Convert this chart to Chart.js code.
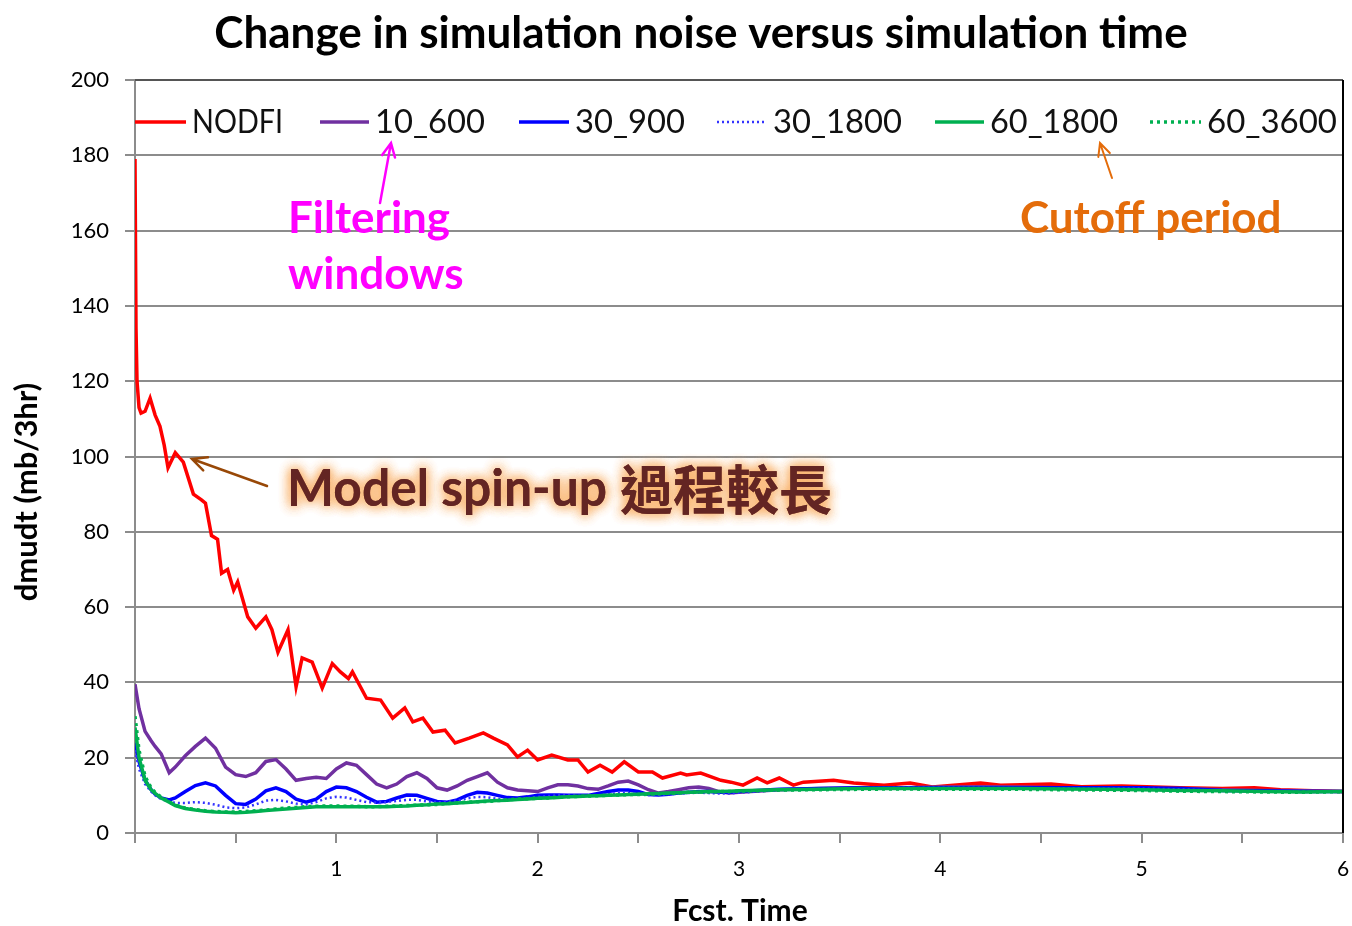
<!DOCTYPE html>
<html>
<head>
<meta charset="utf-8">
<script src="https://cdn.jsdelivr.net/npm/chart.js@4.4.0/dist/chart.umd.min.js"></script>
<style>
  body { margin: 0; background: #fff; }
  canvas { display: block; }
</style>
</head>
<body>
<canvas id="noiseChart" width="1352" height="926"></canvas>
<script>
// Series names (legend order)
const seriesNames = ['NODFI', '10_600', '30_900', '30_1800', '60_1800', '60_3600'];

// NODFI has its own (irregular) time samples
const nodfiTime = [0, 0.005, 0.01, 0.02, 0.03, 0.05, 0.075, 0.1, 0.124, 0.145, 0.164, 0.2, 0.24, 0.29, 0.33, 0.35,
  0.38, 0.41, 0.43, 0.46, 0.49, 0.51, 0.56, 0.6, 0.65, 0.68, 0.71, 0.76, 0.8, 0.83, 0.88, 0.93, 0.98,
  1.02, 1.06, 1.08, 1.15, 1.22, 1.28, 1.34, 1.38, 1.43, 1.48, 1.54, 1.59, 1.66, 1.73, 1.78, 1.85, 1.9, 1.95,
  2.0, 2.07, 2.15, 2.2, 2.25, 2.31, 2.37, 2.43, 2.5, 2.57, 2.62, 2.71, 2.74, 2.81, 2.91, 2.96,
  3.02, 3.09, 3.14, 3.2, 3.27, 3.32, 3.47, 3.57, 3.72, 3.85, 3.96, 4.2, 4.3, 4.55, 4.7, 4.9, 5.19, 5.4, 5.56, 5.69, 5.85, 6];
const nodfi = [179, 134, 120, 113, 111.5, 112, 115.5, 111, 108, 103, 97, 101, 98.5, 90, 88.5, 87.6,
  79, 78, 69, 70, 64.5, 66.7, 57.4, 54.4, 57.4, 54, 48, 54, 38.8, 46.5, 45.4, 38.5, 45,
  42.8, 41, 42.8, 35.8, 35.3, 30.5, 33.2, 29.5, 30.5, 26.8, 27.3, 23.9, 25.2, 26.6, 25.2, 23.4, 20.2, 22,
  19.4, 20.7, 19.4, 19.4, 16.2, 18, 16.2, 18.9, 16.2, 16.2, 14.6, 15.9, 15.4, 15.9, 14, 13.5,
  12.7, 14.6, 13.3, 14.6, 12.7, 13.5, 14, 13.3, 12.7, 13.3, 12.2, 13.3, 12.7, 13, 12.3, 12.5, 12, 11.8, 12, 11.5, 11.2, 11];

// Filtered runs share one time grid
const filtTime = [0, 0.02, 0.05, 0.08, 0.1, 0.13, 0.17,
  0.2, 0.25, 0.3, 0.35, 0.4, 0.45, 0.5, 0.55, 0.6, 0.65, 0.7, 0.75, 0.8, 0.85, 0.9, 0.95,
  1.0, 1.05, 1.1, 1.15, 1.2, 1.25, 1.3, 1.35, 1.4, 1.45, 1.5, 1.55, 1.6, 1.65, 1.7, 1.75, 1.8, 1.85, 1.9, 1.95,
  2.0, 2.05, 2.1, 2.15, 2.2, 2.25, 2.3, 2.35, 2.4, 2.45, 2.5, 2.55, 2.6, 2.65, 2.7, 2.75, 2.8, 2.85, 2.9, 2.95,
  3.0, 3.2, 3.4, 3.6, 3.8, 4.0, 4.2, 4.4, 4.6, 4.8, 5.0, 5.2, 5.4, 5.6, 5.8, 6.0];

const f10_600 = [39.5, 33, 27, 24.5, 23, 21, 16,
  17.5, 20.5, 23, 25.2, 22.5, 17.5, 15.5, 15, 16, 19, 19.5, 17, 14, 14.5, 14.8, 14.5,
  17, 18.6, 18, 15.5, 13, 12, 13, 15, 16, 14.5, 12, 11.4, 12.5, 14, 15, 16, 13.5, 12, 11.4, 11.2,
  11, 12, 12.8, 12.8, 12.5, 11.8, 11.6, 12.5, 13.5, 13.8, 12.8, 11.5, 10.6, 11, 11.5, 12, 12.2, 11.8, 11, 10.6,
  10.8, 11.5, 11.8, 12, 12, 12.2, 12.3, 12.2, 12, 12, 11.8, 11.8, 11.5, 11.3, 11.2, 11];

const f30_900 = [24, 19, 14, 11.5, 10.3, 9.3, 8.8,
  9.3, 11, 12.6, 13.3, 12.5, 10, 7.8, 7.6, 9, 11.2, 12, 11, 9, 8.2, 9, 11,
  12.2, 12, 11, 9.5, 8.2, 8.4, 9.3, 10.1, 10, 9.2, 8.4, 8.2, 8.8, 10, 10.8, 10.6, 10, 9.4, 9.3, 9.6,
  10, 10.1, 10.1, 10, 10, 10, 10.5, 11, 11.4, 11.4, 11, 10.2, 10.1, 10.3, 10.6, 10.8, 11, 11, 10.8, 10.8,
  11, 11.6, 11.8, 12, 12, 12, 12, 12, 12, 12, 12, 11.8, 11.3, 11.2, 11, 11];

const f30_1800 = [22, 17, 13, 11, 10, 9, 8.3,
  8, 8, 8.2, 8, 7.5, 6.8, 6.6, 6.8, 7.6, 8.6, 8.8, 8.4, 7.8, 7.6, 8.2, 9.2,
  9.6, 9.4, 8.8, 8.2, 8.1, 8.2, 8.5, 8.8, 8.8, 8.4, 8.2, 8.3, 8.6, 9.2, 9.6, 9.5, 9.1, 8.9, 9, 9.3,
  9.6, 9.8, 10, 10, 9.9, 9.8, 10, 10.3, 10.6, 10.6, 10.4, 10.1, 10.1, 10.3, 10.5, 10.6, 10.7, 10.6, 10.5, 10.5,
  10.7, 11.4, 11.7, 11.9, 12, 12, 12, 11.9, 11.9, 11.8, 11.8, 11.6, 11.2, 11.1, 11, 11];

const f60_1800 = [28, 20, 14, 11.5, 10.5, 9.3, 8.2,
  7.3, 6.5, 6.1, 5.8, 5.6, 5.5, 5.4, 5.5, 5.7, 6, 6.2, 6.4, 6.6, 6.8, 7, 7,
  7, 7, 7, 7, 7, 7, 7.1, 7.2, 7.4, 7.5, 7.7, 7.8, 8, 8.1, 8.3, 8.5, 8.6, 8.7, 8.9, 9,
  9.2, 9.3, 9.4, 9.6, 9.7, 9.8, 9.9, 10, 10.1, 10.2, 10.3, 10.4, 10.5, 10.6, 10.7, 10.8, 10.9, 11, 11, 11.1,
  11.2, 11.5, 11.6, 11.8, 11.8, 11.8, 11.8, 11.8, 11.7, 11.6, 11.5, 11.3, 11.2, 11, 10.9, 11];

const f60_3600 = [31, 22, 15, 12, 10.8, 9.5, 8.3,
  7.4, 6.6, 6.2, 5.9, 5.7, 5.6, 5.6, 5.7, 5.9, 6.1, 6.4, 6.6, 6.8, 7, 7.1, 7.2,
  7.2, 7.1, 7.1, 7, 7, 7.1, 7.2, 7.3, 7.4, 7.5, 7.6, 7.8, 8, 8.2, 8.3, 8.4, 8.6, 8.8, 9, 9.1,
  9.2, 9.3, 9.5, 9.6, 9.7, 9.8, 9.9, 10, 10.1, 10.2, 10.2, 10.3, 10.4, 10.5, 10.6, 10.8, 10.9, 10.9, 11, 11,
  11.1, 11.4, 11.5, 11.6, 11.7, 11.6, 11.6, 11.6, 11.5, 11.4, 11.3, 11.1, 11, 10.9, 10.8, 11];

function pairs(xs, ys) {
    return xs.map((x, i) => ({ x: x, y: ys[i] }));
}

Chart.defaults.font.family = 'Lato';
Chart.defaults.color = '#000';

// Legend sample positions (line start, text start, text width)
const legendPos = [[135, 192, 91], [320, 375, 110], [519, 575, 110], [717, 773, 129], [935, 990, 128], [1150, 1207, 130]];

function drawArrow(ctx, x1, y1, x2, y2, color, w, head) {
    const a = Math.atan2(y2 - y1, x2 - x1);
    ctx.save();
    ctx.strokeStyle = color;
    ctx.lineWidth = w;
    ctx.lineCap = 'round';
    ctx.beginPath();
    ctx.moveTo(x1, y1);
    ctx.lineTo(x2, y2);
    ctx.moveTo(x2 - head * Math.cos(a - 0.45), y2 - head * Math.sin(a - 0.45));
    ctx.lineTo(x2, y2);
    ctx.lineTo(x2 - head * Math.cos(a + 0.45), y2 - head * Math.sin(a + 0.45));
    ctx.stroke();
    ctx.restore();
}

const decorPlugin = {
    id: 'decor',
    afterDraw(chart) {
        const ctx = chart.ctx;
        const area = chart.chartArea;
        ctx.save();

        // top and right frame
        ctx.strokeStyle = '#555';
        ctx.lineWidth = 2;
        ctx.beginPath();
        ctx.moveTo(area.left, area.top);
        ctx.lineTo(area.right, area.top);
        ctx.stroke();
        ctx.strokeStyle = '#000';
        ctx.beginPath();
        ctx.moveTo(area.right, area.top);
        ctx.lineTo(area.right, area.bottom);
        ctx.stroke();

        // title
        ctx.fillStyle = '#000';
        ctx.textAlign = 'center';
        ctx.textBaseline = 'middle';
        ctx.font = 'bold 44px Lato';
        ctx.fillText('Change in simulation noise versus simulation time', 701, 34, 977);

        // axis titles
        ctx.font = 'bold 30px Lato';
        ctx.fillText('Fcst. Time', 740, 911, 143);
        ctx.save();
        ctx.translate(27, 492);
        ctx.rotate(-Math.PI / 2);
        ctx.font = 'bold 31px Lato';
        ctx.fillText('dmudt (mb/3hr)', 0, 0, 240);
        ctx.restore();

        // legend inside the plot
        ctx.textAlign = 'left';
        ctx.textBaseline = 'alphabetic';
        ctx.font = '33px Lato';
        chart.data.datasets.forEach((ds, i) => {
            const p = legendPos[i];
            ctx.save();
            ctx.strokeStyle = ds.borderColor;
            ctx.lineWidth = ds.borderWidth;
            ctx.setLineDash(ds.borderDash || []);
            ctx.beginPath();
            ctx.moveTo(p[0], 122);
            ctx.lineTo(p[1] - 6, 122);
            ctx.stroke();
            ctx.restore();
            ctx.fillStyle = '#111';
            ctx.fillText(ds.label, p[1], 133, p[2]);
        });

        // annotations
        ctx.font = 'bold 44px Lato';
        ctx.fillStyle = '#ff00ff';
        ctx.fillText('Filtering', 288, 233, 162);
        ctx.fillText('windows', 288, 289, 178);
        drawArrow(ctx, 380, 203, 391, 143, '#ff00ff', 2.5, 15);

        ctx.fillStyle = '#e46c0a';
        ctx.fillText('Cutoff period', 1020, 233, 263);
        drawArrow(ctx, 1112, 178, 1100, 143, '#e46c0a', 2, 14);

        drawArrow(ctx, 267, 486, 192, 459, '#984807', 2.5, 16);

        // glowing spin-up note
        ctx.save();
        ctx.shadowColor = 'rgba(250, 180, 110, 0.9)';
        ctx.shadowBlur = 12;
        ctx.fillStyle = '#632523';
        for (let k = 0; k < 3; k++) {
            ctx.font = 'bold 52px Lato';
            ctx.textBaseline = 'alphabetic';
            ctx.fillText('Model spin-up', 287, 506, 320);
            ctx.font = 'bold 53px "Noto Sans CJK TC"';
            ctx.textBaseline = 'middle';
            ctx.fillText('過程較長', 620, 490, 212);
        }
        ctx.restore();

        ctx.restore();
    }
};

const ctx = document.getElementById('noiseChart');

new Chart(ctx.getContext('2d'), {
    type: 'line',
    data: {
        datasets: [
            { label: seriesNames[0], data: pairs(nodfiTime, nodfi), borderColor: '#ff0000', borderWidth: 3.5, order: 6 },
            { label: seriesNames[1], data: pairs(filtTime, f10_600), borderColor: '#7030a0', borderWidth: 3.5, order: 5 },
            { label: seriesNames[2], data: pairs(filtTime, f30_900), borderColor: '#0000ff', borderWidth: 3.5, order: 4 },
            { label: seriesNames[3], data: pairs(filtTime, f30_1800), borderColor: '#3333ff', borderWidth: 2.5, borderDash: [2, 3], order: 3 },
            { label: seriesNames[4], data: pairs(filtTime, f60_1800), borderColor: '#00b050', borderWidth: 3.5, order: 2 },
            { label: seriesNames[5], data: pairs(filtTime, f60_3600), borderColor: '#00b050', borderWidth: 3.5, borderDash: [3, 4], order: 1 }
        ]
    },
    options: {
        responsive: false,
        animation: false,
        devicePixelRatio: 1,
        elements: {
            point: { radius: 0 },
            line: { tension: 0, fill: false }
        },
        layout: { padding: { top: 80, right: 9, left: 0, bottom: 0 } },
        plugins: {
            legend: { display: false },
            title: { display: false },
            tooltip: { enabled: false }
        },
        scales: {
            x: {
                type: 'linear',
                min: 0,
                max: 6,
                afterFit: (scale) => {
                    scale.height = 93;
                    scale.paddingLeft = 0;
                    scale.paddingRight = 0;
                },
                ticks: {
                    stepSize: 0.5,
                    autoSkip: false,
                    maxRotation: 0,
                    padding: 14,
                    font: { size: 21 },
                    callback: (v) => (Number.isInteger(v) && v > 0) ? String(v) : ''
                },
                grid: { drawOnChartArea: false, tickLength: 10, color: '#8c8c8c', lineWidth: 2 },
                border: { color: '#8c8c8c', width: 2 }
            },
            y: {
                min: 0,
                max: 200,
                afterFit: (scale) => {
                    scale.width = 135;
                    scale.paddingTop = 0;
                    scale.paddingBottom = 0;
                },
                ticks: { stepSize: 20, padding: 16, font: { size: 22 } },
                grid: { color: '#8c8c8c', lineWidth: 2, tickLength: 10 },
                border: { color: '#8c8c8c', width: 2 }
            }
        }
    },
    plugins: [decorPlugin]
});
</script>
</body>
</html>
